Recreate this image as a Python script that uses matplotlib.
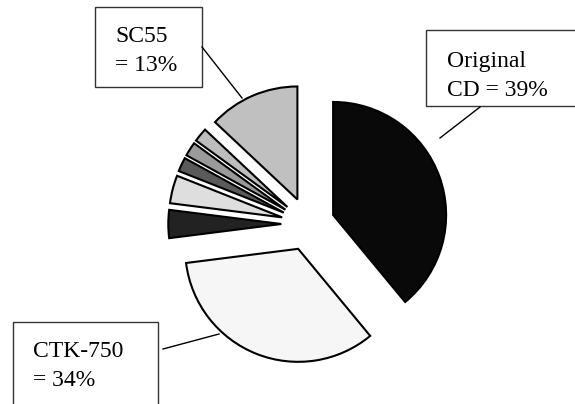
import matplotlib
matplotlib.use("Agg")
import matplotlib.pyplot as plt
from matplotlib.patches import Rectangle

# shares of the pie, clockwise from 12 o'clock
labels = ["Original CD", "CTK-750", "other 1", "other 2", "other 3", "other 4", "other 5", "SC55"]
shares = [39, 34, 4, 4, 2, 2, 2, 13]
colors = ["#090909", "#f6f6f6", "#222222", "#dedede", "#5a5a5a", "#9a9a9a", "#bdbdbd", "#c0c0c0"]

box_lines = [["SC55", "= 13%"], ["Original", "CD = 39%"], ["CTK-750", "= 34%"]]

W, H = 575, 404
fig = plt.figure(figsize=(W / 100, H / 100), dpi=100)
ax = fig.add_axes([0, 0, 1, 1])

def Y(y):
    # image row -> data y
    return H - y

R = 113
ax.pie(shares, colors=colors, startangle=90, counterclock=False,
       center=(308, Y(224)), radius=R, explode=[26.7] * len(shares),
       wedgeprops=dict(edgecolor="black", linewidth=1.5), frame=True)
ax.set_xlim(0, W)
ax.set_ylim(0, H)
ax.set_aspect("equal")
ax.axis("off")

font = dict(family="Liberation Serif", size=17, color="black")

# label boxes: (x0, y0, x1, y1) in image pixels, text origin, leader line
boxes = [
    ((95, 7, 202, 87), (115, 42), [(202, 47), (242, 98)]),
    ((426, 30, 590, 106), (447, 67), [(480, 107), (440, 138)]),
    ((13, 322, 158, 420), (33, 357), [(163, 349), (219, 334)]),
]

for i, (rect, org, line) in enumerate(boxes):
    x0, y0, x1, y1 = rect
    ax.add_patch(Rectangle((x0, Y(y1)), x1 - x0, y1 - y0, facecolor="white",
                           edgecolor="#333333", linewidth=1.0, clip_on=False))
    for k, txt in enumerate(box_lines[i]):
        ax.text(org[0], Y(org[1] + k * 29), txt, ha="left", va="baseline", **font)
    ax.plot([line[0][0], line[1][0]], [Y(line[0][1]), Y(line[1][1])],
            color="black", linewidth=1.0)

fig.savefig("out.png", dpi=100)
